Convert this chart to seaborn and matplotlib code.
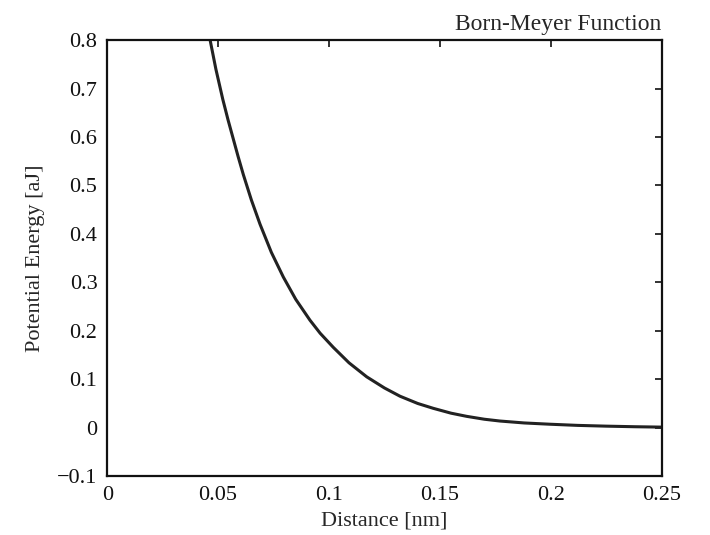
import numpy as np
import pandas as pd
import matplotlib
matplotlib.use("Agg")
import matplotlib.pyplot as plt
import seaborn as sns
from matplotlib.ticker import FuncFormatter

# values
distance = [0.0455, 0.0464, 0.0490, 0.0521, 0.0545, 0.0569, 0.0590, 0.0614, 0.0650,
            0.0689, 0.0740, 0.0794, 0.0850, 0.0914, 0.0960, 0.1019, 0.1090, 0.1170,
            0.1250, 0.1320, 0.1400, 0.1470, 0.1550, 0.1620, 0.1700, 0.1770, 0.1880,
            0.1995, 0.2120, 0.2250, 0.2380, 0.2500]
energy = [0.83, 0.80, 0.74, 0.678, 0.635, 0.595, 0.560, 0.522, 0.470,
          0.420, 0.362, 0.311, 0.265, 0.222, 0.195, 0.166, 0.134, 0.105,
          0.082, 0.065, 0.050, 0.040, 0.030, 0.0235, 0.0175, 0.0138, 0.0098,
          0.0072, 0.0048, 0.0032, 0.0020, 0.0012]

xticks = [0, 0.05, 0.1, 0.15, 0.2, 0.25]
yticks = [-0.1, 0, 0.1, 0.2, 0.3, 0.4, 0.5, 0.6, 0.7, 0.8]

df = pd.DataFrame({"Distance": distance, "Energy": energy})

sns.set_style("white")
plt.rcParams["font.family"] = ["Liberation Serif", "DejaVu Serif"]

fig = plt.figure(figsize=(7.1, 5.35), dpi=100)
ax = fig.add_axes([0.151, 0.110, 0.781, 0.815])

sns.lineplot(data=df, x="Distance", y="Energy", ax=ax, color="#222222", linewidth=2.2)

ax.set_xlim(0, 0.25)
ax.set_ylim(-0.1, 0.8)
ax.set_xticks(xticks)
ax.set_yticks(yticks)
fmt = FuncFormatter(lambda v, p: ("%g" % round(v, 3)).replace("-", "\u2212"))
ax.xaxis.set_major_formatter(fmt)
ax.yaxis.set_major_formatter(fmt)
ax.tick_params(direction="in", length=5, width=1.2, top=True, right=True,
               labelsize=16, colors="#111111", pad=7)

for s in ax.spines.values():
    s.set_visible(True)
    s.set_color("#111111")
    s.set_linewidth(1.6)

ax.set_xlabel("Distance [nm]", fontsize=16, labelpad=5)
ax.set_ylabel("Potential Energy [aJ]", fontsize=16, labelpad=9)
ax.set_title("Born-Meyer Function", loc="right", fontsize=17, pad=7)

fig.savefig("out.png", dpi=100)
